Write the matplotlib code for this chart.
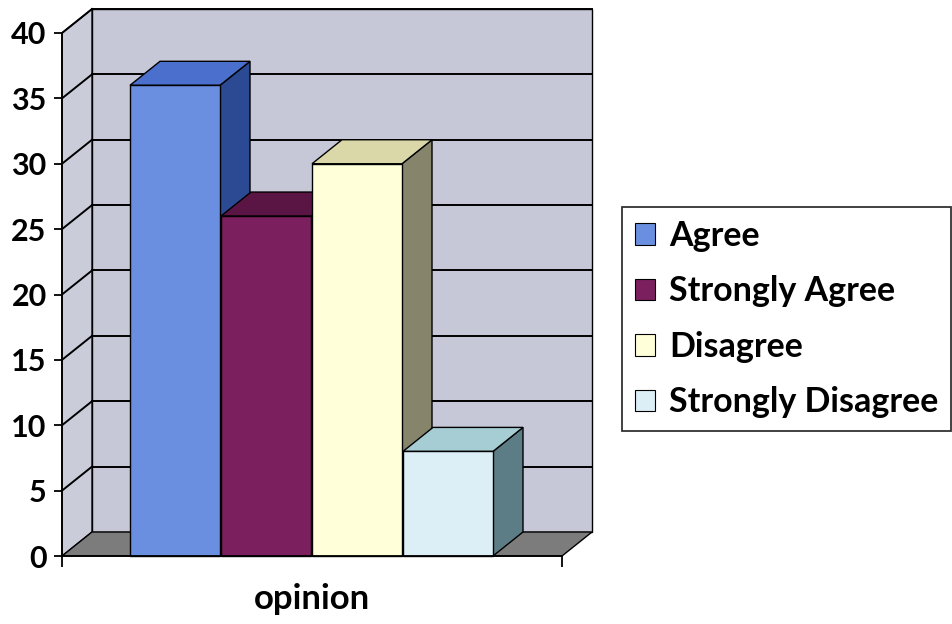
import matplotlib
matplotlib.use("Agg")
import matplotlib.pyplot as plt
from matplotlib.patches import Polygon, Patch

plt.rcParams['font.family'] = ['Lato', 'DejaVu Sans']
plt.rcParams['font.weight'] = 'bold'

# data
opinions = ["Agree", "Strongly Agree", "Disagree", "Strongly Disagree"]
counts = [36, 26, 30, 8]
yticks = [0, 5, 10, 15, 20, 25, 30, 35, 40]

# front / top / side shades of every bar
front_cols = ["#6A8FE0", "#7C1F5F", "#FFFFDA", "#DCEEF6"]
top_cols = ["#4A6FCC", "#5A1545", "#DAD7A8", "#A6CCD4"]
side_cols = ["#2B4A93", "#4F1240", "#86846A", "#5D7D86"]
wall_col = "#C6C8D8"
floor_col = "#7C7C7C"

W, H = 953, 624
fig = plt.figure(figsize=(W / 100, H / 100), dpi=100)
ax = fig.add_axes([62 / W, (H - 556) / H, 500 / W, (556 - 33) / H])
ax.set_xlim(0, 5)
ax.set_ylim(0, 40)

# depth of the fake 3d box, in data units
DX = 0.30
DY = 24 / 13.075
ymax = 40

def poly(pts, fc, z, lw=1.0):
    ax.add_patch(Polygon(pts, closed=True, facecolor=fc, edgecolor="black",
                         linewidth=lw, zorder=z, clip_on=False))

# walls and floor
poly([(DX, DY), (5 + DX, DY), (5 + DX, ymax + DY), (DX, ymax + DY)], wall_col, 1)
poly([(0, 0), (DX, DY), (DX, ymax + DY), (0, ymax)], "#CBCCDA", 1)
poly([(0, 0), (5, 0), (5 + DX, DY), (DX, DY)], floor_col, 2)
for v in yticks[1:]:
    ax.plot([DX, 5 + DX], [v + DY, v + DY], color="black", lw=1.4, zorder=2, clip_on=False)
    ax.plot([0, DX], [v, v + DY], color="black", lw=1.4, zorder=2, clip_on=False)

# bars, left to right so each covers the side of the one before
bw = 0.90
gap = 0.01
x0 = 0.68
for i, (h, fcol, tcol, scol) in enumerate(zip(counts, front_cols, top_cols, side_cols)):
    x = x0 + i * (bw + gap)
    z = 3 + i
    poly([(x + bw, 0), (x + bw + DX, DY), (x + bw + DX, h + DY), (x + bw, h)], scol, z)
    poly([(x, h), (x + bw, h), (x + bw + DX, h + DY), (x + DX, h + DY)], tcol, z)
    poly([(x, 0), (x + bw, 0), (x + bw, h), (x, h)], fcol, z)

ax.set_facecolor("none")
for s in ["top", "right"]:
    ax.spines[s].set_visible(False)
ax.spines["left"].set_linewidth(1.3)
ax.spines["bottom"].set_linewidth(1.3)
ax.spines["left"].set_zorder(10)
ax.spines["bottom"].set_zorder(10)

ax.set_yticks(yticks)
ax.tick_params(axis="y", direction="out", length=6, width=1.3, pad=5, labelsize=22)
ax.set_xticks([0, 5])
ax.set_xticklabels([])
ax.tick_params(axis="x", direction="out", length=8, width=1.3)
ax.set_xlabel("opinion", fontsize=25, fontweight="bold", labelpad=8)

handles = [Patch(facecolor=c, edgecolor="black", linewidth=0.8) for c in front_cols]
leg = fig.legend(handles, opinions, loc="upper left",
                 bbox_to_anchor=(622 / W, 1 - 207 / H), fontsize=24.5,
                 frameon=True, fancybox=False, edgecolor="black",
                 handlelength=0.6, handleheight=0.6, handletextpad=0.4,
                 labelspacing=0.69, borderpad=0.38, borderaxespad=0)
leg.get_frame().set_linewidth(1.3)
for t in leg.get_texts():
    t.set_fontweight("bold")

fig.savefig("out.png", dpi=100)
